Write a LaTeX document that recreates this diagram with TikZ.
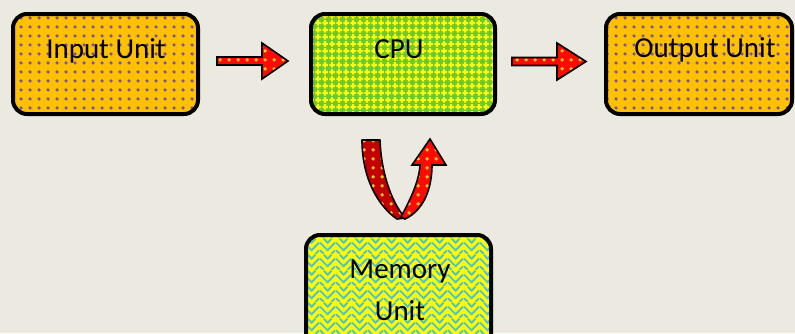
\documentclass[tikz,border=0pt]{standalone}
\usepackage{fontspec}
\setmainfont{Carlito}
\usetikzlibrary{patterns.meta}
\definecolor{bg}{RGB}{236,233,224}
\definecolor{orfill}{RGB}{255,192,0}
\definecolor{ordot}{RGB}{125,85,150}
\definecolor{cpugreen}{RGB}{110,200,40}
\definecolor{cpuyel}{RGB}{250,252,20}
\definecolor{memyel}{RGB}{252,252,10}
\definecolor{memteal}{RGB}{80,195,200}
\definecolor{arred}{RGB}{255,10,0}
\definecolor{ardark}{RGB}{195,0,0}
\definecolor{ardot}{RGB}{255,200,40}
\tikzdeclarepattern{
  name=bigdots, type=uncolored,
  bounding box={(0pt,0pt) and (8.5pt,8.5pt)},
  tile size={(8.5pt,8.5pt)},
  code={\fill (4.25pt,4.25pt) circle (1.9pt);}
}
\tikzdeclarepattern{
  name=ardots, type=uncolored,
  bounding box={(0pt,0pt) and (9pt,9pt)},
  tile size={(9pt,9pt)},
  code={\fill (4.5pt,4.5pt) circle (2pt);}
}
\tikzdeclarepattern{
  name=pluses, type=uncolored,
  bounding box={(0pt,0pt) and (7pt,7pt)},
  tile size={(7pt,7pt)},
  code={\fill (2.2pt,0.3pt) rectangle (4.8pt,6.7pt); \fill (0.3pt,2.2pt) rectangle (6.7pt,4.8pt);}
}
\tikzdeclarepattern{
  name=herring, type=uncolored,
  bounding box={(0pt,0pt) and (16pt,16pt)},
  tile size={(16pt,16pt)},
  code={\draw[line width=2pt] (0pt,4pt) -- (4pt,0pt);
        \draw[line width=2pt] (4pt,16pt) -- (8pt,12pt) -- (12pt,16pt);
        \draw[line width=2pt] (12pt,0pt) -- (16pt,4pt);
        \draw[line width=2pt] (0pt,12pt) -- (8pt,4pt) -- (16pt,12pt);}
}
\tikzset{
  boxbase/.style={rectangle, rounded corners=14pt, draw=black, line width=4pt, inner sep=0pt},
  obox/.style={boxbase, preaction={fill=orfill}, preaction={pattern={bigdots}, pattern color=ordot}},
  cbox/.style={boxbase, preaction={fill=cpugreen}, preaction={pattern={pluses}, pattern color=cpuyel}},
  mbox/.style={boxbase, preaction={fill=memyel}, preaction={pattern={herring}, pattern color=memteal}},
  lbl/.style={font=\fontsize{29}{33}\selectfont, inner sep=0pt, anchor=base},
  barrow/.style={draw=black, line width=1.6pt, line join=miter, preaction={fill=arred}, preaction={pattern={ardots}, pattern color=ardot}},
  darrow/.style={draw=black, line width=1.6pt, line join=round, preaction={fill=ardark}, preaction={pattern={ardots}, pattern color=ardot}}
}
\begin{document}
\begin{tikzpicture}[x=1pt,y=-1pt]
\path[use as bounding box, fill=bg] (0,0) rectangle (795,333);
% boxes
\node[obox, minimum width=185, minimum height=100] (inp) at (105.5,64) {};
\node[cbox, minimum width=184, minimum height=100] (cpu) at (403,64) {};
\node[obox, minimum width=186, minimum height=100] (out) at (699,64) {};
\node[mbox, minimum width=185, minimum height=120] (mem) at (398.5,295) {};
% labels
\node[lbl] (tin) at (106,58) {Input Unit};
\node[lbl] (tcpu) at (399,58) {CPU};
\node[lbl] (tout) at (705,57) {Output Unit};
\node[lbl] (tmem1) at (400,278) {Memory};
\node[lbl] (tmem2) at (400,320) {Unit};
% block arrows
\draw[barrow] (217,57) -- (262,57) -- (262,43) -- (288,61) -- (262,79) -- (262,65) -- (217,65) -- cycle;
\draw[barrow] (512,57.5) -- (557,57.5) -- (557,43) -- (586,61.5) -- (557,80) -- (557,65.5) -- (512,65.5) -- cycle;
% u-turn arrow
\draw[darrow] (362,140) -- (380,140) .. controls (381,170) and (390,200) .. (405,218)
  -- (397,219) .. controls (378,206) and (362,178) .. (362,140) -- cycle;
\draw[barrow] (401,217) .. controls (410,200) and (419,182) .. (420,165) -- (412,165) -- (430,139)
  -- (446,165) -- (432,165) .. controls (432,188) and (424,210) .. (405,219) -- cycle;
\end{tikzpicture}
\end{document}
